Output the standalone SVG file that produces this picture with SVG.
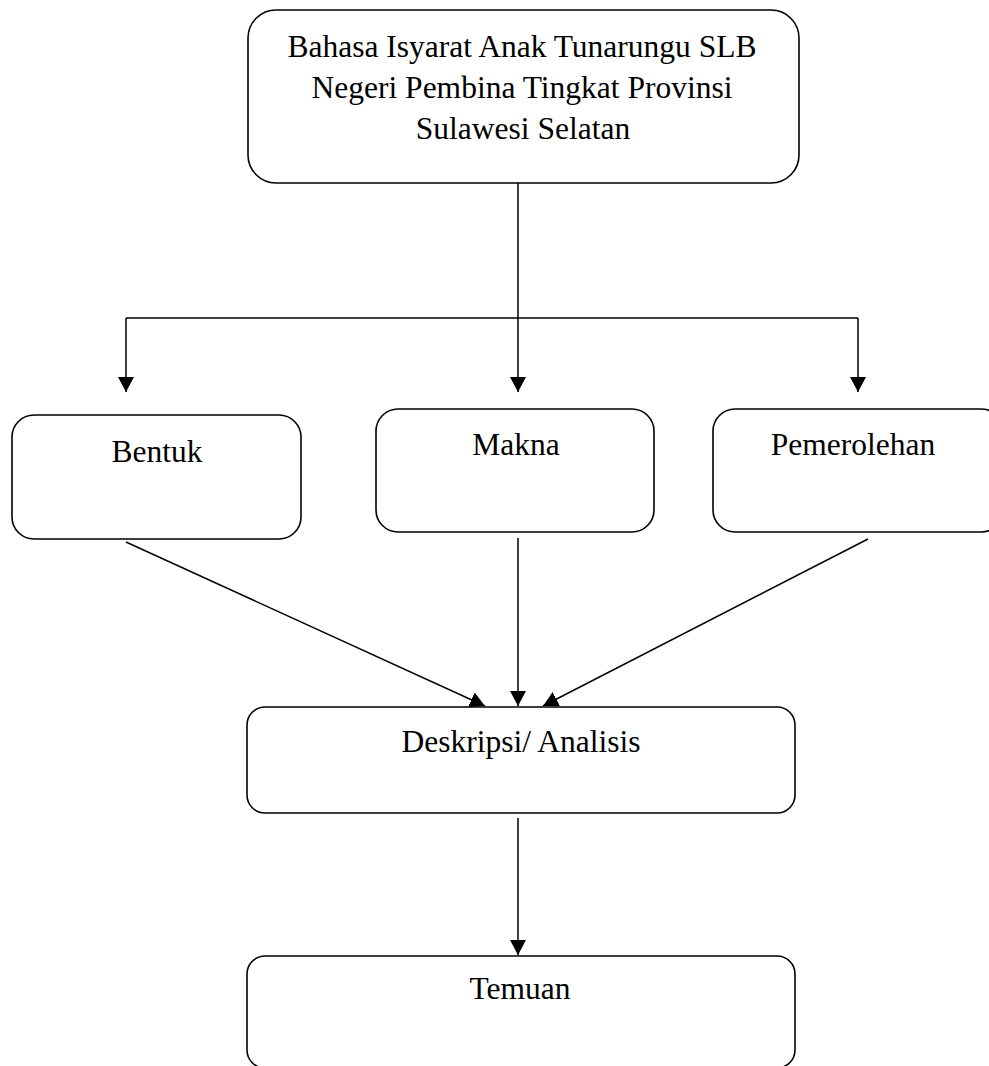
<svg xmlns="http://www.w3.org/2000/svg" width="989" height="1066" viewBox="0 0 989 1066">
<style>
.box{fill:#fff;stroke:#000;stroke-width:1.6}
.lbl{font-family:"Liberation Serif","Times New Roman",serif;font-size:31.5px;fill:#000;text-anchor:middle}
.con{fill:none;stroke:#000;stroke-width:1.5}
</style>
<defs>
<marker id="arr" markerUnits="userSpaceOnUse" markerWidth="18" markerHeight="18" refX="15" refY="8" orient="auto">
<path d="M0,0 L15,8 L0,16 z" fill="#000"/>
</marker>
</defs>
<rect width="989" height="1066" fill="#fff"/>
<g id="connectors">
<polyline class="con" points="518,183 518,318"/>
<polyline class="con" points="126,318 858,318"/>
<line class="con" x1="126" y1="318" x2="126" y2="392" marker-end="url(#arr)"/>
<line class="con" x1="518" y1="318" x2="518" y2="392" marker-end="url(#arr)"/>
<line class="con" x1="858" y1="318" x2="858" y2="392" marker-end="url(#arr)"/>
<line class="con" x1="126" y1="542" x2="485" y2="706" marker-end="url(#arr)"/>
<line class="con" x1="518" y1="538" x2="518" y2="706" marker-end="url(#arr)"/>
<line class="con" x1="868" y1="539" x2="543" y2="706" marker-end="url(#arr)"/>
<line class="con" x1="518" y1="818" x2="518" y2="955" marker-end="url(#arr)"/>
</g>
<g id="node-top">
<rect class="box" x="248" y="10" width="551" height="173" rx="28"/>
<text class="lbl" x="522" y="57">Bahasa Isyarat Anak Tunarungu SLB</text>
<text class="lbl" x="522" y="98">Negeri Pembina Tingkat Provinsi</text>
<text class="lbl" x="523" y="139">Sulawesi Selatan</text>
</g>
<g id="node-bentuk">
<rect class="box" x="12" y="415" width="289" height="124" rx="22"/>
<text class="lbl" x="157" y="462">Bentuk</text>
</g>
<g id="node-makna">
<rect class="box" x="376" y="409" width="278" height="123" rx="22"/>
<text class="lbl" x="516" y="455">Makna</text>
</g>
<g id="node-pemerolehan">
<rect class="box" x="713" y="409" width="290" height="123" rx="22"/>
<text class="lbl" x="853" y="455">Pemerolehan</text>
</g>
<g id="node-deskripsi">
<rect class="box" x="247" y="707" width="548" height="106" rx="18"/>
<text class="lbl" x="521" y="752">Deskripsi/ Analisis</text>
</g>
<g id="node-temuan">
<rect class="box" x="247" y="956" width="548" height="112" rx="18"/>
<text class="lbl" x="520" y="999">Temuan</text>
</g>
</svg>
